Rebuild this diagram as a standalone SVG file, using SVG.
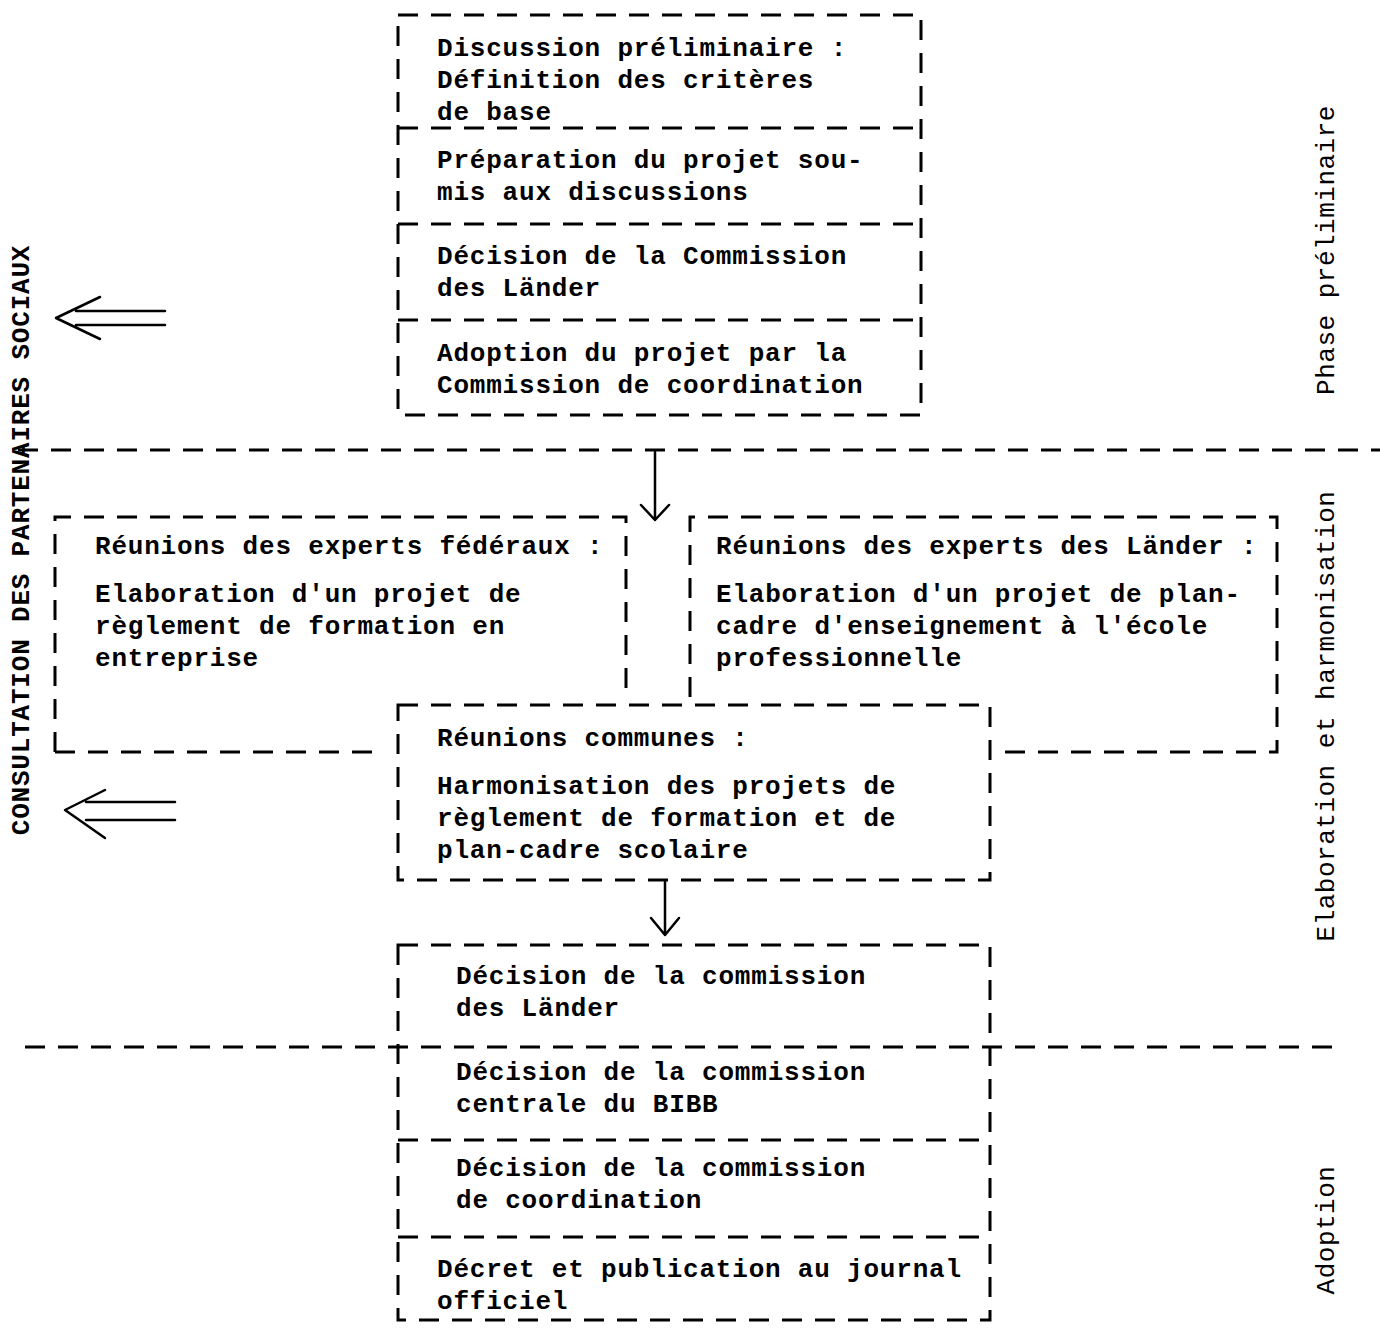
<svg xmlns="http://www.w3.org/2000/svg" width="1380" height="1332" viewBox="0 0 1380 1332">
<style>
.d{fill:none;stroke:#000;stroke-width:3;stroke-dasharray:20 13}
.a{fill:none;stroke:#000;stroke-width:2.5;stroke-linecap:round;stroke-linejoin:round}
.t{font-family:"Liberation Mono","DejaVu Sans Mono",monospace;font-size:26px;font-weight:bold;letter-spacing:0.8px;fill:#000}
.p{font-family:"Liberation Mono","DejaVu Sans Mono",monospace;font-size:26px;letter-spacing:0.5px;fill:#000}
</style>
<rect width="1380" height="1332" fill="#fff"/>
<g id="phases">
<line class="d" x1="18" y1="450" x2="1380" y2="450"/>
<line class="d" x1="25" y1="1047" x2="1335" y2="1047"/>
<text class="p" transform="translate(1334,250) rotate(-90)" text-anchor="middle">Phase préliminaire</text>
<text class="p" transform="translate(1334,716) rotate(-90)" text-anchor="middle">Elaboration et harmonisation</text>
<text class="p" transform="translate(1334,1230) rotate(-90)" text-anchor="middle">Adoption</text>
<text class="t" transform="translate(29,540) rotate(-90)" text-anchor="middle">CONSULTATION DES PARTENAIRES SOCIAUX</text>
</g>
<g id="top">
<rect class="d" x="398" y="15" width="523" height="400"/>
<line class="d" x1="398" y1="128" x2="921" y2="128"/>
<line class="d" x1="398" y1="224" x2="921" y2="224"/>
<line class="d" x1="398" y1="320" x2="921" y2="320"/>
<text class="t" x="437" y="56">Discussion préliminaire :</text>
<text class="t" x="437" y="88">Définition des critères</text>
<text class="t" x="437" y="120">de base</text>
<text class="t" x="437" y="168">Préparation du projet sou-</text>
<text class="t" x="437" y="200">mis aux discussions</text>
<text class="t" x="437" y="264">Décision de la Commission</text>
<text class="t" x="437" y="296">des Länder</text>
<text class="t" x="437" y="361">Adoption du projet par la</text>
<text class="t" x="437" y="393">Commission de coordination</text>
</g>
<g id="federaux">
<path class="d" d="M55 752 L55 517 L626 517 L626 697"/>
<line class="d" x1="55" y1="752" x2="385" y2="752"/>
<text class="t" x="95" y="554">Réunions des experts fédéraux :</text>
<text class="t" x="95" y="602">Elaboration d'un projet de</text>
<text class="t" x="95" y="634">règlement de formation en</text>
<text class="t" x="95" y="666">entreprise</text>
</g>
<g id="laender">
<path class="d" d="M690 697 L690 517 L1277 517 L1277 752 L995 752"/>
<text class="t" x="716" y="554">Réunions des experts des Länder :</text>
<text class="t" x="716" y="602">Elaboration d'un projet de plan-</text>
<text class="t" x="716" y="634">cadre d'enseignement à l'école</text>
<text class="t" x="716" y="666">professionnelle</text>
</g>
<g id="communes">
<rect class="d" x="398" y="705" width="592" height="175"/>
<text class="t" x="437" y="746">Réunions communes :</text>
<text class="t" x="437" y="794">Harmonisation des projets de</text>
<text class="t" x="437" y="826">règlement de formation et de</text>
<text class="t" x="437" y="858">plan-cadre scolaire</text>
</g>
<g id="adoption">
<rect class="d" x="398" y="945" width="592" height="375"/>
<line class="d" x1="398" y1="1140" x2="990" y2="1140"/>
<line class="d" x1="398" y1="1237" x2="990" y2="1237"/>
<text class="t" x="456" y="984">Décision de la commission</text>
<text class="t" x="456" y="1016">des Länder</text>
<text class="t" x="456" y="1080">Décision de la commission</text>
<text class="t" x="456" y="1112">centrale du BIBB</text>
<text class="t" x="456" y="1176">Décision de la commission</text>
<text class="t" x="456" y="1208">de coordination</text>
<text class="t" x="437" y="1277">Décret et publication au journal</text>
<text class="t" x="437" y="1309">officiel</text>
</g>
<g id="connectors">
<path class="a" d="M655 452 L655 520 M641 505 L655 520 L669 505"/>
<path class="a" d="M665 882 L665 935 M651 918 L665 935 L679 918"/>
<path class="a" d="M100 297 L56 318 L100 339 M76 311 L165 311 M76 325 L165 325"/>
<path class="a" d="M105 790 L65 810 L105 838 M86 802 L175 802 M86 820 L175 820"/>
</g>
</svg>
